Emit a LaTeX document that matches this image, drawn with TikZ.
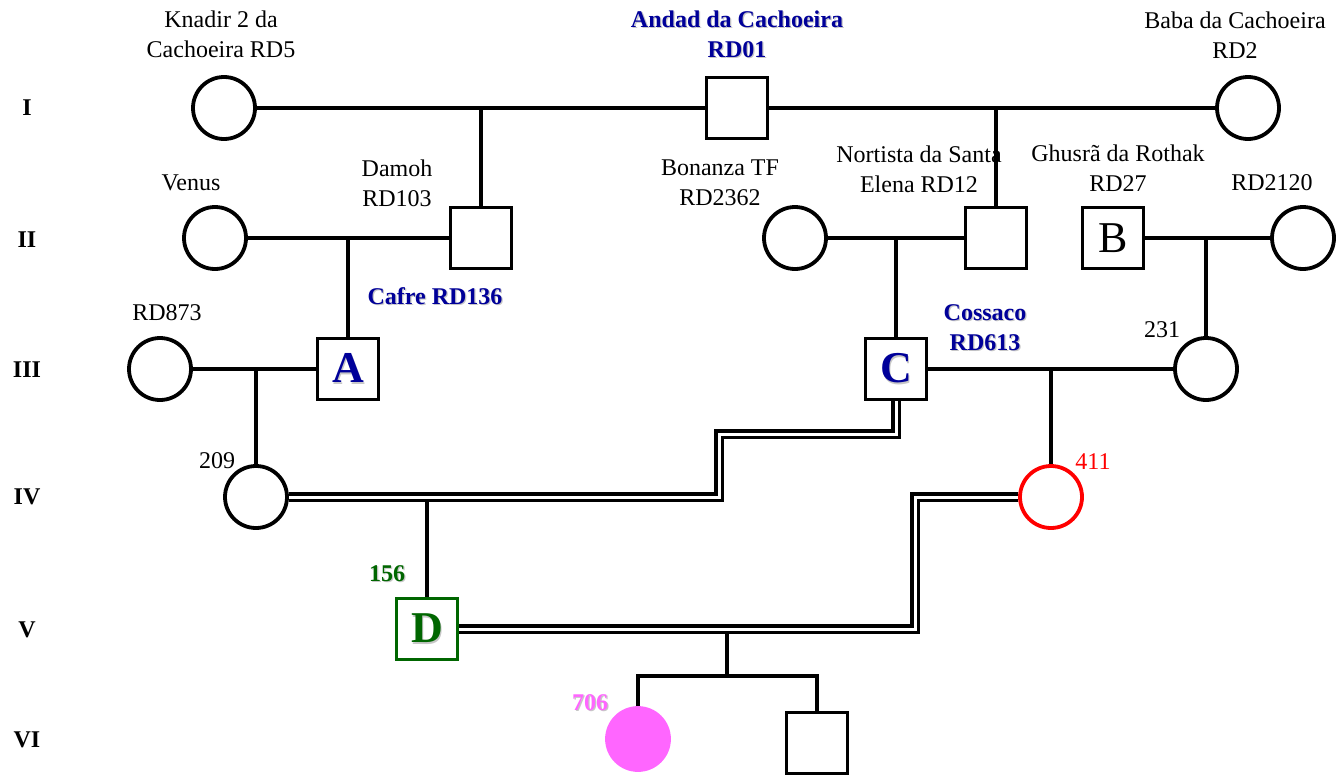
\documentclass[tikz,border=0pt]{standalone}
\usepackage{fontspec}
\setmainfont{Liberation Serif}
\usetikzlibrary{calc}
\definecolor{navy}{RGB}{0,0,153}
\definecolor{leafgreen}{RGB}{0,102,0}
\definecolor{rose}{RGB}{255,102,255}
% text with a soft grey drop shadow
\newcommand\shtext[1]{\leavevmode\rlap{\kern1.3pt\raisebox{-1.3pt}{\textcolor{black!22}{#1}}}#1}
\begin{document}
\begin{tikzpicture}[x=1pt,y=-1pt,
  female/.style={circle, draw, line width=3.8pt, minimum size=62pt, inner sep=0pt},
  male/.style={rectangle, draw, line width=3.8pt, minimum size=61pt, inner sep=0pt},
  link/.style={line width=3.8pt},
  cons/.style={double, line width=3.3pt, double distance=3pt},
  lbl/.style={font=\fontsize{24}{30}\selectfont, align=center, inner sep=0pt},
  blbl/.style={lbl, font=\fontsize{24}{30}\selectfont\bfseries, text=navy},
  gen/.style={font=\fontsize{24}{30}\selectfont\bfseries, inner sep=0pt},
  big/.style={font=\fontsize{44}{44}\selectfont\bfseries},
  bigplain/.style={font=\fontsize{44}{44}\selectfont}]
\useasboundingbox (0,0) rectangle (1336,779);

% generation numerals
\node[gen] (g1) at (27,108) {I};
\node[gen] (g2) at (27,240) {II};
\node[gen] (g3) at (27,370) {III};
\node[gen] (g4) at (27,497) {IV};
\node[gen] (g5) at (27,630) {V};
\node[gen] (g6) at (27,740) {VI};

% individuals
\node[female] (k2) at (224,108) {};
\node[male] (rd01) at (737,108) {};
\node[female] (baba) at (1248,108) {};
\node[female] (venus) at (215,238) {};
\node[male] (damoh) at (481,238) {};
\node[female] (bonanza) at (795,238) {};
\node[male] (nortista) at (996,238) {};
\node[male, bigplain] (B) at (1113,238) {B};
\node[female] (rd2120) at (1303,238) {};
\node[female] (rd873) at (160,369) {};
\node[male, big, text=navy] (A) at (348,369) {\shtext{A}};
\node[male, big, text=navy] (C) at (896,369) {\shtext{C}};
\node[female] (c231) at (1206,369) {};
\node[female] (c209) at (256,497) {};
\node[female, draw=red] (c411) at (1051,497) {};
\node[male, big, draw=leafgreen, text=leafgreen] (D) at (427,629) {\shtext{D}};
\node[female, fill=rose, draw=rose] (c706) at (638,739) {};
\node[male] (sq) at (817,743) {};

% matings and descent lines
\draw[link] (k2) -- (rd01);
\draw[link] (damoh |- rd01) -- (damoh);
\draw[link] (rd01) -- (baba);
\draw[link] (nortista |- baba) -- (nortista);
\draw[link] (venus) -- (damoh);
\draw[link] (A |- venus) -- (A);
\draw[link] (bonanza) -- (nortista);
\draw[link] (C |- bonanza) -- (C);
\draw[link] (B) -- (rd2120);
\draw[link] (c231 |- B) -- (c231);
\draw[link] (rd873) -- (A);
\draw[link] (c209 |- A) -- (c209);
\draw[link] (C) -- (c231);
\draw[link] (c411 |- C) -- (c411);

% consanguineous matings
\coordinate (j1) at (719,434);
\draw[cons] (C.south) |- (j1) |- (c209);
\draw[link] ([yshift=-4pt]D |- c209) -- (D);
\coordinate (j2) at (915,497);
\draw[cons] (c411.west) -- (j2) |- (D);

% sibship
\coordinate (sib) at (727,676);
\draw[link] ([yshift=-4pt]sib |- D) -- (sib);
\draw[link] (c706.north) -- (c706 |- sib) -- (sq |- sib) -- (sq.north);

% names
\node[lbl] (t1) at (221,34) {Knadir 2 da\\Cachoeira RD5};
\node[blbl] (t2) at (737,35) {\shtext{Andad da Cachoeira}\\\shtext{RD01}};
\node[lbl] (t3) at (1235,35) {Baba da Cachoeira\\RD2};
\node[lbl] (t4) at (191,183) {Venus};
\node[lbl] (t5) at (397,183) {Damoh\\RD103};
\node[lbl] (t6) at (720,183) {Bonanza TF\\RD2362};
\node[lbl] (t7) at (919,169) {Nortista da Santa\\Elena RD12};
\node[lbl] (t8) at (1118,168) {Ghusrã da Rothak\\RD27};
\node[lbl] (t9) at (1272,183) {RD2120};
\node[blbl] (t10) at (435,297) {\shtext{Cafre RD136}};
\node[lbl] (t11) at (167,313) {RD873};
\node[blbl] (t12) at (985,328) {\shtext{Cossaco}\\\shtext{RD613}};
\node[lbl] (t13) at (1162,330) {231};
\node[lbl] (t14) at (217,461) {209};
\node[lbl, text=red] (t15) at (1093,462) {411};
\node[blbl, text=leafgreen] (t16) at (387,574) {\shtext{156}};
\node[blbl, text=rose] (t17) at (590,703) {\shtext{706}};
\end{tikzpicture}
\end{document}
